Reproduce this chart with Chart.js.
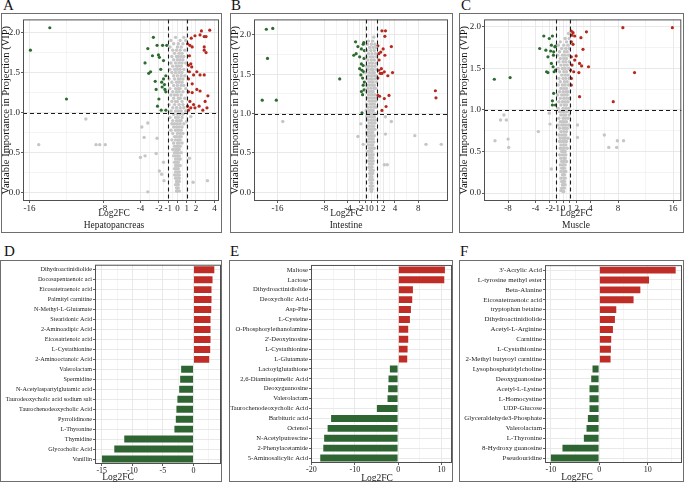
<!DOCTYPE html>
<html>
<head>
<meta charset="utf-8">
<script src="https://cdn.jsdelivr.net/npm/chart.js@4.4.0/dist/chart.umd.min.js"></script>
<style>
  html, body { margin: 0; padding: 0; background: #fff; }
  body { width: 685px; height: 482px; position: relative; overflow: hidden;
         font-family: "Liberation Serif", "Times New Roman", serif; color: #222; }
  canvas { position: absolute; }
  .frame { position: absolute; border: 1px solid #6e6e6e; box-sizing: border-box; pointer-events: none; }
  .letter { position: absolute; font-size: 15px; line-height: 15px; color: #111; }
  .xt { position: absolute; width: 120px; text-align: center; font-size: 9.5px; line-height: 12px; color: #222; }
</style>
</head>
<body>

<div class="letter" style="left:3px;top:-2px">A</div>
<div class="letter" style="left:231px;top:-2px">B</div>
<div class="letter" style="left:461px;top:-2px">C</div>
<div class="letter" style="left:4px;top:244px">D</div>
<div class="letter" style="left:230px;top:244px">E</div>
<div class="letter" style="left:460px;top:244px">F</div>

<canvas id="chartA" width="221" height="220" style="left:1px;top:13px"></canvas>
<canvas id="chartB" width="223" height="220" style="left:230px;top:13px"></canvas>
<canvas id="chartC" width="224" height="220" style="left:459px;top:13px"></canvas>
<canvas id="chartD" width="222" height="222" style="left:0px;top:260px"></canvas>
<canvas id="chartE" width="224" height="222" style="left:229px;top:260px"></canvas>
<canvas id="chartF" width="225" height="222" style="left:459px;top:260px"></canvas>

<div class="frame" style="left:1px;top:13px;width:221px;height:220px"></div>
<div class="frame" style="left:230px;top:13px;width:223px;height:220px"></div>
<div class="frame" style="left:459px;top:13px;width:225px;height:220px"></div>
<div class="frame" style="left:0px;top:260px;width:222px;height:222px"></div>
<div class="frame" style="left:229px;top:260px;width:224px;height:222px"></div>
<div class="frame" style="left:459px;top:260px;width:225px;height:222px"></div>

<div class="xt" style="left:54px;top:207px">Log2FC</div>
<div class="xt" style="left:54px;top:219px">Hepatopancreas</div>
<div class="xt" style="left:286px;top:207px">Log2FC</div>
<div class="xt" style="left:286px;top:219px">Intestine</div>
<div class="xt" style="left:516px;top:207px">Log2FC</div>
<div class="xt" style="left:516px;top:219px">Muscle</div>
<div class="xt" style="left:58px;top:471px">Log2FC</div>
<div class="xt" style="left:317px;top:472px">Log2FC</div>
<div class="xt" style="left:517px;top:471px">Log2FC</div>

<script>
/* ---- thresholds & axis ticks ---- */
const vipCut = 1;
const fcCut = [-1, 1];
const yTicks = [0, 0.5, 1, 1.5, 2];
const yMinor = [0.25, 0.75, 1.25, 1.75];

const xTicksA = [-16, -8, -4, -2, -1, 0, 1, 2, 4];
const xMinorA = [-12, -6, -3, -1.5, -0.5, 0.5, 1.5, 3];
const xTicksB = [-16, -8, -4, -2, -1, 0, 1, 2, 4, 8];
const xMinorB = [-12, -6, -3, -1.5, -0.5, 0.5, 1.5, 3, 6];
const xTicksC = [-8, -4, -2, -1, 0, 1, 2, 4, 8, 16];
const xMinorC = [-6, -3, -1.5, -0.5, 0.5, 1.5, 3, 6, 12];

/* ---- A: Hepatopancreas  [Log2FC, VIP] ---- */
const greenA = [[-13.8,2.06],[-15.9,1.78],[-12.0,1.17],[-2.6,1.94],[-3.2,1.80],[-2.2,1.84],[-1.6,1.84],
  [-1.15,1.84],[-3.5,1.62],[-2.7,1.71],[-2.05,1.72],[-1.95,1.69],[-1.5,1.65],[-1.8,1.54],[-3.1,1.49],
  [-2.9,1.51],[-2.4,1.39],[-1.5,1.42],[-1.25,1.46],[-2.3,1.29],[-1.65,1.32],[-1.35,1.29],[-1.25,1.26],
  [-2.0,1.17],[-2.15,1.08],[-1.75,1.03],[-1.25,1.03],[-1.7,1.38],[-1.4,1.35]];
const redA = [[2.6,2.02],[3.5,2.03],[1.9,1.96],[2.45,1.97],[2.9,1.95],[3.1,1.95],[1.5,1.93],[1.35,1.84],
  [1.6,1.82],[1.1,1.86],[2.9,1.82],[3.1,1.75],[2.9,1.78],[1.3,1.71],[1.45,1.61],[1.2,1.59],[1.55,1.57],
  [1.3,1.51],[2.1,1.51],[2.45,1.47],[2.9,1.47],[1.75,1.47],[1.2,1.42],[1.6,1.36],[1.2,1.26],[1.6,1.25],
  [2.1,1.29],[2.45,1.27],[3.3,1.21],[3.0,1.14],[1.35,1.14],[1.75,1.10],[1.1,1.08],[2.35,1.08],[2.75,1.03],
  [1.45,1.06],[1.2,1.03],[1.9,1.06],[3.2,1.06]];
const greyOutA = [[-9.9,0.92],[-15.0,0.60],[-8.8,0.60],[-8.4,0.60],[-7.8,0.60],[-3.85,0.82],[-3.2,0.87],
  [-3.6,0.69],[-2.2,0.68],[-4.0,0.44],[-3.5,0.46],[-2.3,0.49],[-1.5,0.38],[-1.7,0.23],[-1.95,0.27],
  [-1.45,0.15],[-3.2,0.01],[1.3,0.43],[1.7,0.13],[3.25,0.15],[1.0,0.89],[1.45,0.95]];
// rows: [VIP, log2FC, log2FC, ...]
const greyRowsA = [
  [1.94,-0.2,0.7],[1.90,-0.7,0.3,0.9],[1.86,-0.4,0.1,0.6],[1.82,-0.8,0.0,0.4],[1.78,-0.5,-0.1,0.3,0.8],
  [1.74,-0.3,0.2,0.5],[1.70,-0.6,-0.1,0.1,0.4,0.7],[1.66,-0.4,0.0,0.3,0.6],[1.62,-0.7,-0.2,0.2,0.5,0.9],
  [1.58,-0.5,-0.1,0.1,0.4],[1.54,-0.8,-0.3,0.0,0.3,0.7],[1.50,-0.6,-0.2,0.2,0.5],[1.46,-0.4,0.0,0.4,0.8],
  [1.42,-0.9,-0.3,0.1,0.3,0.6],[1.38,-0.6,-0.1,0.2,0.5],[1.34,-0.4,0.0,0.4,0.7],[1.30,-0.8,-0.2,0.1,0.3,0.9],
  [1.26,-0.5,-0.1,0.2,0.6],[1.22,-0.7,-0.3,0.0,0.4],[1.18,-0.4,0.1,0.3,0.8],[1.14,-0.6,-0.2,0.0,0.5],
  [1.10,-0.9,-0.3,0.2,0.6],[1.06,-0.5,-0.1,0.3,0.7],[1.02,-0.7,-0.2,0.1,0.4,0.9],[0.98,-0.4,0.0,0.3,0.6],
  [0.94,-0.8,-0.2,0.1,0.5],[0.90,-0.5,-0.1,0.2,0.4],[0.86,-0.6,-0.3,0.0,0.3,0.7],[0.82,-0.4,-0.1,0.2,0.5],
  [0.78,-0.7,-0.2,0.1,0.4],[0.74,-0.5,0.0,0.3,0.6],[0.70,-0.3,-0.1,0.2,0.4],[0.66,-0.6,-0.2,0.1,0.3],
  [0.62,-0.4,0.0,0.2,0.5],[0.58,-0.3,-0.1,0.1,0.3],[0.54,-0.5,-0.2,0.0,0.2],[0.50,-0.3,-0.1,0.1,0.4],
  [0.46,-0.4,-0.2,0.0,0.2],[0.42,-0.2,0.0,0.2,0.3],[0.38,-0.3,-0.1,0.1],[0.34,-0.2,0.0,0.2,0.3],
  [0.30,-0.3,-0.1,0.1],[0.26,-0.2,0.0,0.2],[0.22,-0.3,-0.1,0.1,0.2],[0.18,-0.2,0.0,0.2],[0.14,-0.1,0.1,0.2],
  [0.10,-0.2,0.0,0.1],[0.06,-0.1,0.1],[0.02,-0.1,0.0,0.2]];

/* ---- B: Intestine ---- */
const greenB = [[-17.9,2.07],[-16.8,2.08],[-17.7,1.70],[-18.6,1.17],[-16.2,1.17],[-5.4,1.44],
  [-2.7,1.91],[-2.3,1.85],[-3.0,1.74],[-2.6,1.76],[-1.7,1.82],[-1.4,1.88],[-1.3,1.90],[-2.0,1.72],
  [-1.7,1.63],[-1.4,1.61],[-2.0,1.57],[-1.6,1.55],[-1.3,1.53],[-1.8,1.49],[-1.4,1.36],[-1.7,1.28],
  [-1.25,1.30],[-1.5,1.24],[-1.6,1.01],[-1.25,1.70],[-1.2,1.80],[-1.5,1.45],[-1.2,1.40]];
const redB = [[1.8,2.05],[2.4,2.05],[2.3,1.98],[1.1,1.86],[2.0,1.82],[3.4,1.85],[1.25,1.76],[1.6,1.78],
  [2.3,1.74],[1.3,1.68],[1.7,1.57],[1.25,1.55],[2.2,1.53],[1.5,1.51],[1.8,1.51],[2.8,1.48],[3.6,1.52],
  [1.1,1.45],[1.4,1.22],[1.1,1.23],[2.2,1.19],[3.0,1.23],[2.5,1.09],[1.8,1.04],[10.9,1.29],[11.0,1.20]];
const greyOutB = [[-15.1,0.90],[-2.3,0.71],[-1.8,0.87],[-1.4,0.61],[2.4,0.96],[3.4,0.90],[2.4,0.74],
  [2.2,0.35],[2.7,0.35],[7.4,0.72],[9.3,0.61],[11.9,0.61]];
const greyRowsB = [
  [1.97,0.4],[1.92,-0.5,0.2],[1.88,-0.7,0.0,0.6],[1.84,-0.3,0.3,0.8],[1.80,-0.8,-0.1,0.5],[1.76,-0.5,0.1,0.7],
  [1.72,-0.9,-0.2,0.3,0.9],[1.68,-0.6,0.0,0.5],[1.64,-0.3,0.2,0.8],[1.60,-0.8,-0.4,0.1,0.6],
  [1.56,-0.6,-0.1,0.3,0.9],[1.52,-0.9,-0.3,0.2,0.5],[1.48,-0.5,0.0,0.4,0.8],[1.44,-0.7,-0.2,0.1,0.6],
  [1.40,-0.4,0.0,0.3,0.9],[1.36,-0.8,-0.3,0.2,0.5],[1.32,-0.6,-0.1,0.4,0.7],[1.28,-0.9,-0.4,0.0,0.3],
  [1.24,-0.5,-0.1,0.2,0.6],[1.20,-0.7,-0.3,0.1,0.5,0.9],[1.16,-0.4,0.0,0.3,0.7],[1.12,-0.8,-0.2,0.2,0.5],
  [1.08,-0.6,-0.1,0.4,0.8],[1.04,-0.9,-0.4,0.0,0.3],[1.00,-0.5,-0.2,0.2,0.6],[0.96,-0.8,-0.3,0.1,0.5],
  [0.92,-0.6,-0.1,0.3,0.7],[0.88,-0.4,0.0,0.2,0.6],[0.84,-0.7,-0.3,0.1,0.4],[0.80,-0.5,-0.1,0.3,0.6],
  [0.76,-0.8,-0.4,0.0,0.2],[0.72,-0.6,-0.2,0.1,0.5],[0.68,-0.4,0.0,0.3],[0.64,-0.7,-0.3,0.1,0.4],
  [0.60,-0.5,-0.1,0.2],[0.56,-0.3,0.0,0.3,0.5],[0.52,-0.6,-0.2,0.1],[0.48,-0.4,0.0,0.3],[0.44,-0.3,-0.1,0.2],
  [0.40,-0.5,-0.2,0.1,0.3],[0.36,-0.3,0.0,0.2],[0.32,-0.4,-0.1,0.1],[0.28,-0.2,0.0,0.3],[0.24,-0.3,-0.1,0.2],
  [0.20,-0.2,0.1],[0.16,-0.3,0.0,0.2],[0.12,-0.1,0.1],[0.08,-0.2,0.0,0.2],[0.04,-0.1,0.1],[0.01,0.0]];

/* ---- C: Muscle ---- */
const greenC = [[-10.0,1.37],[-7.7,1.39],[-2.8,1.89],[-1.55,1.89],[-2.0,1.86],[-3.4,1.74],[-2.5,1.72],
  [-1.7,1.78],[-1.2,1.76],[-1.07,1.77],[-1.8,1.71],[-1.36,1.70],[-2.2,1.64],[-1.4,1.66],[-1.7,1.56],
  [-1.45,1.52],[-1.1,1.48],[-1.3,1.46],[-2.2,1.45],[-2.4,1.46],[-1.36,1.20],[-1.55,1.11],[-1.1,1.06],
  [-1.55,1.06]];
const redC = [[8.7,1.99],[15.9,1.99],[10.4,1.45],[7.3,1.10],[2.4,1.16],[1.2,1.95],[1.45,1.93],[1.7,1.89],
  [1.3,1.90],[3.4,1.94],[2.6,1.87],[1.45,1.79],[1.2,1.82],[2.9,1.73],[1.9,1.65],[1.2,1.64],[1.7,1.60],
  [2.4,1.56],[2.7,1.53],[3.7,1.52],[1.3,1.54],[1.55,1.46],[2.3,1.45],[1.2,1.38],[1.2,1.30],[1.1,1.48]];
const greyOutC = [[-8.6,0.94],[-9.1,0.88],[-8.25,0.88],[-9.9,0.63],[-8.0,0.65],[-7.9,0.55],[-3.6,0.74],
  [-2.0,0.96],[-1.9,0.83],[2.1,0.82],[2.1,0.67],[6.0,0.70],[6.65,0.55],[7.8,0.55],[7.9,0.63],[8.8,0.63],
  [-1.7,0.29],[-0.3,0.03]];
const greyRowsC = [
  [1.92,0.8],[1.86,0.3,0.9],[1.82,-0.4,0.5],[1.78,-0.7,0.1,0.7],[1.74,-0.2,0.4,0.9],[1.70,-0.5,0.2,0.6],
  [1.66,-0.8,-0.1,0.3,0.8],[1.62,-0.4,0.1,0.5],[1.58,-0.6,0.0,0.4,0.9],[1.54,-0.3,0.2,0.6],
  [1.50,-0.7,-0.1,0.3,0.8],[1.46,-0.5,0.1,0.5],[1.42,-0.2,0.3,0.7],[1.38,-0.6,0.0,0.4,0.9],[1.34,-0.4,0.2,0.6],
  [1.30,-0.7,-0.1,0.3,0.8],[1.26,-0.3,0.1,0.5],[1.22,-0.5,0.0,0.4,0.7],[1.18,-0.8,-0.2,0.2,0.6],
  [1.14,-0.4,0.1,0.5,0.9],[1.10,-0.6,-0.1,0.3,0.7],[1.06,-0.3,0.2,0.5],[1.02,-0.7,0.0,0.4,0.8],
  [0.98,-0.5,-0.1,0.2,0.6],[0.94,-0.3,0.1,0.4,0.9],[0.90,-0.6,0.0,0.3,0.7],[0.86,-0.4,-0.1,0.2,0.5],
  [0.82,-0.7,-0.2,0.1,0.4,0.8],[0.78,-0.5,0.0,0.3,0.6],[0.74,-0.3,0.1,0.5],[0.70,-0.6,-0.2,0.2,0.4],
  [0.66,-0.4,0.0,0.3,0.7],[0.62,-0.5,-0.1,0.2,0.5],[0.58,-0.3,0.1,0.4],[0.54,-0.4,-0.1,0.2,0.6],
  [0.50,-0.2,0.0,0.3],[0.46,-0.5,-0.1,0.2,0.4],[0.42,-0.3,0.1,0.3],[0.38,-0.2,0.0,0.2,0.5],
  [0.34,-0.4,-0.1,0.1,0.3],[0.30,-0.2,0.0,0.2],[0.26,-0.3,0.1,0.4],[0.22,-0.1,0.0,0.2],[0.18,-0.3,0.1,0.3],
  [0.14,-0.2,0.0,0.2],[0.10,-0.1,0.1,0.3],[0.06,-0.2,0.0,0.2],[0.02,0.0,0.1]];

/* ---- D/E/F: top 20 metabolites, Log2FC ---- */
const namesD = ["Dihydroactinidiolide", "Docosapentaenoic aci", "Eicosatetraenoic acid", "Palmityl carnitine",
  "N-Methyl-L-Glutamate", "Stearidonic Acid", "2-Aminoadipic Acid", "Eicosatrienoic acid", "L-Cystathionine",
  "2-Aminooctanoic Acid", "Valerolactam", "Spermidine", "N-Acetylaspartylglutamic acid",
  "Taurodeoxycholic acid sodium salt", "Taurochenodeoxycholic Acid", "Pyrrolidinone", "L-Thyronine",
  "Thymidine", "Glycocholic Acid", "Vanillin"];
const fcD = [3.57, 3.28, 3.11, 3.11, 3.07, 2.95, 2.95, 2.95, 2.9, 2.74,
  -2.18, -2.34, -2.5, -2.79, -2.95, -3.05, -3.28, -11.48, -13.11, -15.13];
const xTicksD = [-15, -10, -5, 0];
const xMinorD = [-12.5, -7.5, -2.5, 2.5];

const namesE = ["Maltose", "Lactose", "Dihydroactinidiolide", "Deoxycholic Acid", "Asp-Phe", "L-Cysteine",
  "O-Phosphorylethanolamine", "2'-Deoxyinosine", "L-Cystathionine", "L-Glutamate", "Lactoylglutathione",
  "2,6-Diaminopimelic Acid", "Deoxyguanosine", "Valerolactam", "Taurochenodeoxycholic Acid",
  "Barbituric acid", "Octenol", "N-Acetylputrescine", "2-Phenylacetamide", "5-Aminosalicylic Acid"];
const fcE = [11.0, 10.85, 3.62, 3.46, 3.16, 2.93, 2.54, 2.54, 2.39, 2.31,
  -2.15, -2.46, -2.54, -2.69, -5.15, -15.7, -16.5, -17.3, -17.5, -18.2];
const xTicksE = [-20, -10, 0, 10];
const xMinorE = [-15, -5, 5];

const namesF = ["3'-Acrylic Acid", "L-tyrosine methyl ester", "Beta-Alanine", "Eicosatetraenoic acid",
  "tryptophan betaine", "Dihydroactinidiolide", "Acetyl-L-Arginine", "Carnitine", "L-Cystathionine",
  "2-Methyl butyroyl carnitine", "Lysophosphatidylcholine", "Deoxyguanosine", "Acetyl-L-Lysine",
  "L-Homocystine", "UDP-Glucose", "Glyceraldehyde3-Phosphate", "Valerolactam", "L-Thyronine",
  "8-Hydroxy guanosine", "Pseudouridine"];
const fcF = [16.0, 10.5, 8.7, 7.3, 3.73, 3.45, 3.04, 2.69, 2.62, 2.55,
  -1.59, -1.86, -2.21, -2.21, -2.21, -2.55, -2.83, -3.38, -7.8, -10.2];
const xTicksF = [-10, 0, 10];
const xMinorF = [-5, 5, 15];


/* ---- style ---- */
const FONT = "'Liberation Serif', 'Times New Roman', serif";
const DOT_RED = "#b5291f", DOT_GREEN = "#2e6b30", DOT_GREY = "#c6c6c6";
const BAR_RED = "#bf2d26", BAR_GREEN = "#2f6532";
const GRID = "#e6e6e6", INK = "#222", TICK = "#333";

const toPts = arr => arr.map(p => ({ x: p[0], y: p[1] }));
const rowsToPts = rows => rows.flatMap(r => r.slice(1).map(x => ({ x: x, y: r[0] })));

const panelBorder = {
  id: "panelBorder",
  afterDraw(chart) {
    const { ctx, chartArea: a } = chart;
    ctx.save();
    ctx.strokeStyle = "#505050";
    ctx.lineWidth = 1;
    ctx.strokeRect(a.left + 0.5, a.top + 0.5, a.right - a.left - 1, a.bottom - a.top - 1);
    ctx.restore();
  }
};

const cutLines = {
  id: "cutLines",
  afterDatasetsDraw(chart) {
    const { ctx, chartArea: a, scales: { x, y } } = chart;
    ctx.save();
    ctx.strokeStyle = "#1a1a1a";
    ctx.lineWidth = 1.1;
    ctx.setLineDash([4, 3]);
    ctx.beginPath();
    fcCut.forEach(v => {
      const px = Math.round(x.getPixelForValue(v)) + 0.5;
      ctx.moveTo(px, a.top); ctx.lineTo(px, a.bottom);
    });
    const py = Math.round(y.getPixelForValue(vipCut)) + 0.5;
    ctx.moveTo(a.left, py); ctx.lineTo(a.right, py);
    ctx.stroke();
    ctx.restore();
  }
};

function linearAxis(major, minor, fontSize, fmt) {
  const isMajor = v => major.includes(v);
  return {
    type: "linear",
    afterBuildTicks: s => { s.ticks = major.concat(minor).sort((a, b) => a - b).map(v => ({ value: v })); },
    ticks: {
      autoSkip: false, maxRotation: 0, minRotation: 0, padding: 0, color: INK,
      font: { family: FONT, size: fontSize },
      callback: v => isMajor(v) ? fmt(v) : ""
    },
    grid: {
      color: GRID,
      lineWidth: c => (c.tick && isMajor(c.tick.value)) ? 0.9 : 0.45,
      tickLength: 2,
      tickWidth: 0.8,
      tickColor: c => (c.tick && isMajor(c.tick.value)) ? TICK : "rgba(0,0,0,0)"
    },
    border: { display: false }
  };
}

function makeVolcano(id, p) {
  const x = linearAxis(p.xTicks, p.xMinor, 9, v => String(v));
  x.min = p.xRange[0]; x.max = p.xRange[1];
  x.afterFit = s => { s.height = p.xh; };

  const y = linearAxis(yTicks, yMinor, 9, v => v.toFixed(1));
  y.min = p.yRange[0]; y.max = p.yRange[1];
  y.ticks.padding = 1;
  y.title = {
    display: true, text: "Variable Importance in Projection (VIP)", color: "#111",
    font: { family: FONT, size: 10.5, lineHeight: 1 }, padding: { top: 0, bottom: 0 }
  };
  y.afterFit = s => { s.width = p.yw; };

  const dot = (data, color, r) => ({
    data: data, backgroundColor: color, pointRadius: r, pointBorderWidth: 0, pointHoverRadius: r
  });

  new Chart(document.getElementById(id), {
    type: "scatter",
    data: {
      datasets: [
        dot(rowsToPts(p.greyRows).concat(toPts(p.greyOut)), DOT_GREY, 1.7),
        dot(toPts(p.green), DOT_GREEN, 1.6),
        dot(toPts(p.red), DOT_RED, 1.6)
      ]
    },
    options: {
      responsive: false, animation: false, events: [],
      layout: { padding: p.pad },
      plugins: { legend: { display: false }, tooltip: { enabled: false } },
      scales: { x: x, y: y }
    },
    plugins: [cutLines, panelBorder]
  });
}

function makeBars(id, p) {
  const x = linearAxis(p.xTicks, p.xMinor, 8, v => String(v));
  x.min = p.xRange[0]; x.max = p.xRange[1];
  x.afterFit = s => { s.height = p.xh; };

  new Chart(document.getElementById(id), {
    type: "bar",
    data: {
      labels: p.names,
      datasets: [{
        data: p.values,
        backgroundColor: p.values.map(v => v > 0 ? BAR_RED : BAR_GREEN),
        borderColor: "rgba(255,255,255,0.45)",
        borderWidth: 1,
        barPercentage: 0.9,
        categoryPercentage: 1
      }]
    },
    options: {
      indexAxis: "y",
      responsive: false, animation: false, events: [],
      layout: { padding: p.pad },
      plugins: { legend: { display: false }, tooltip: { enabled: false } },
      scales: {
        x: x,
        y: {
          ticks: { autoSkip: false, padding: 1, color: INK, font: { family: FONT, size: p.labelSize } },
          grid: { offset: false, color: GRID, lineWidth: 0.9, tickLength: 2, tickWidth: 0.8, tickColor: TICK },
          border: { display: false },
          afterFit: s => { s.width = p.yw; }
        }
      }
    },
    plugins: [panelBorder]
  });
}

/* ---- build ---- */
makeVolcano("chartA", {
  green: greenA, red: redA, greyOut: greyOutA, greyRows: greyRowsA,
  xTicks: xTicksA, xMinor: xMinorA, xRange: [-16.7, 4.5], yRange: [-0.104, 2.164],
  yw: 22, xh: 32, pad: { top: 4, right: 3, left: 0, bottom: 0 }
});
makeVolcano("chartB", {
  green: greenB, red: redB, greyOut: greyOutB, greyRows: greyRowsB,
  xTicks: xTicksB, xMinor: xMinorB, xRange: [-20.0, 13.05], yRange: [-0.109, 2.195],
  yw: 24, xh: 32, pad: { top: 4, right: 5, left: 0, bottom: 0 }
});
makeVolcano("chartC", {
  green: greenC, red: redC, greyOut: greyOutC, greyRows: greyRowsC,
  xTicks: xTicksC, xMinor: xMinorC, xRange: [-11.5, 17.2], yRange: [-0.095, 2.09],
  yw: 25, xh: 32, pad: { top: 4, right: 1, left: 0, bottom: 0 }
});

makeBars("chartD", {
  names: namesD, values: fcD, xTicks: xTicksD, xMinor: xMinorD, xRange: [-16.1, 4.5],
  labelSize: 6.2, yw: 95, xh: 18, pad: { top: 1, right: 1, left: 0, bottom: 0 }
});
makeBars("chartE", {
  names: namesE, values: fcE, xTicks: xTicksE, xMinor: xMinorE, xRange: [-20.1, 12.4],
  labelSize: 6.6, yw: 82, xh: 19, pad: { top: 2, right: 1, left: 0, bottom: 0 }
});
makeBars("chartF", {
  names: namesF, values: fcF, xTicks: xTicksF, xMinor: xMinorF, xRange: [-11.2, 17.1],
  labelSize: 6.9, yw: 86, xh: 19, pad: { top: 2, right: 2, left: 0, bottom: 0 }
});
</script>
</body>
</html>
